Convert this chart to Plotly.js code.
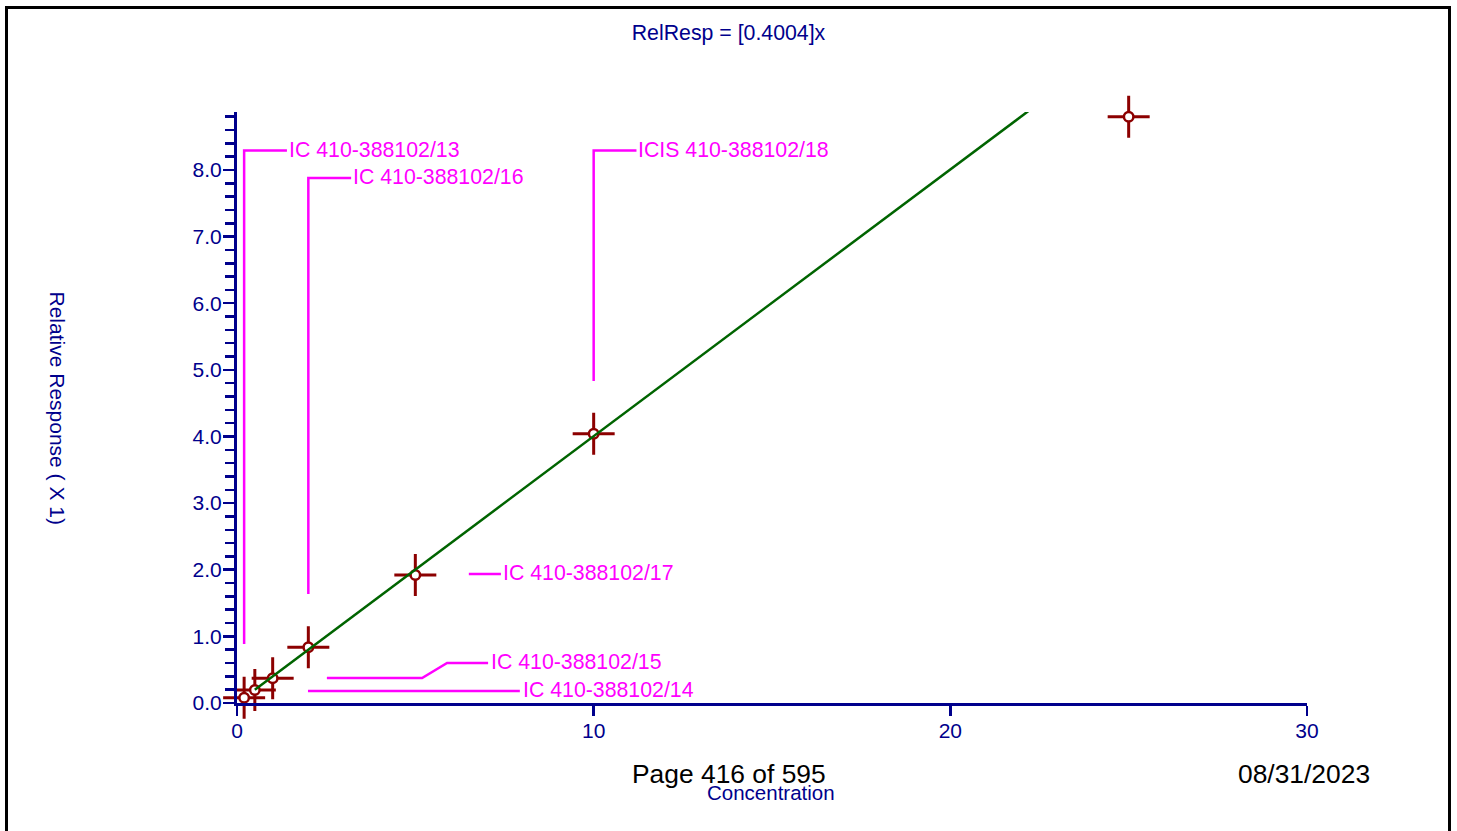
<!DOCTYPE html>
<html><head><meta charset="utf-8">
<script src="https://cdn.plot.ly/plotly-3.0.1.min.js"></script>
<style>html,body{margin:0;padding:0;background:#fff;overflow:hidden;} #chart{width:1457px;height:831px;}</style>
</head><body><div id="chart"></div>
<script>
// ---- data ----
const concentration = [0.2, 0.5, 1, 2, 5, 10, 25];
const relResponse = [0.08, 0.195, 0.37, 0.836, 1.92, 4.04, 8.80];
const slope = 0.4004;
const fitRange = [0.5, 22.23];
const xTickVals = [0, 10, 20, 30];
const xTickText = ['0', '10', '20', '30'];
const labelNames = ['IC 410-388102/13', 'IC 410-388102/16', 'ICIS 410-388102/18', 'IC 410-388102/17', 'IC 410-388102/15', 'IC 410-388102/14'];
const labelX = [1.41, 3.20, 11.19, 7.41, 7.07, 7.97];
const labelY = [8.30, 7.89, 8.30, 1.945, 0.610, 0.190];
const leaderX = [[0.2, 0.2, 1.40], [2, 2, 3.20], [10, 10, 11.20], [6.50, 7.40], [2.52, 5.19, 5.89, 7.04], [1.99, 7.93]];
const leaderY = [[0.886, 8.293, 8.293], [1.636, 7.88, 7.88], [4.833, 8.293, 8.293], [1.936, 1.936], [0.375, 0.375, 0.600, 0.600], [0.180, 0.180]];

// ---- styles ----
const NAVY = '#00008C', MAG = '#FF00FF', RED = '#8C0000', GREEN = '#006400';
const FONT = 'Liberation Sans, Arial, sans-serif';

const traces = [];
leaderX.forEach((xs, i) => {
  traces.push({x: xs, y: leaderY[i], mode: 'lines', line: {color: MAG, width: 2.5}, cliponaxis: false, hoverinfo: 'skip', showlegend: false});
});
traces.push({x: concentration, y: relResponse, mode: 'markers', cliponaxis: false, showlegend: false,
  marker: {symbol: 'cross-thin', size: 30, line: {color: RED, width: 3}}});
traces.push({x: concentration, y: relResponse, mode: 'markers', cliponaxis: false, showlegend: false,
  marker: {symbol: 'circle', size: 9.5, color: 'white', line: {color: RED, width: 2.5}}});
traces.push({x: fitRange, y: fitRange.map(v => slope * v), mode: 'lines', cliponaxis: false, showlegend: false,
  line: {color: GREEN, width: 2.5}});

const annotations = labelNames.map((t, i) => ({x: labelX[i], y: labelY[i], xref: 'x', yref: 'y', text: t, showarrow: false,
  xanchor: 'left', yanchor: 'middle', font: {family: FONT, size: 21.3, color: MAG}}));
annotations.push({x: -0.1673, y: 0.4983, xref: 'paper', yref: 'paper', text: 'Relative Response ( X 1)', textangle: 90,
  showarrow: false, xanchor: 'center', yanchor: 'middle', font: {family: FONT, size: 21, color: NAVY}});
annotations.push({x: 0.4995, y: -0.1506, xref: 'paper', yref: 'paper', text: 'Concentration',
  showarrow: false, xanchor: 'center', yanchor: 'middle', font: {family: FONT, size: 20.5, color: NAVY}});
annotations.push({x: 0.4598, y: -0.1201, xref: 'paper', yref: 'paper', text: 'Page 416 of 595',
  showarrow: false, xanchor: 'center', yanchor: 'middle', font: {family: FONT, size: 26.4, color: '#000'}});
annotations.push({x: 0.9972, y: -0.1201, xref: 'paper', yref: 'paper', text: '08/31/2023',
  showarrow: false, xanchor: 'center', yanchor: 'middle', font: {family: FONT, size: 26.4, color: '#000'}});

const layout = {
  width: 1457, height: 831,
  margin: {l: 237, r: 150, t: 112, b: 128, pad: 0},
  paper_bgcolor: '#fff', plot_bgcolor: '#fff',
  font: {family: FONT, color: NAVY},
  title: {text: 'RelResp = [0.4004]x', x: 0.5, xref: 'container', y: 1 - 33 / 831, yref: 'container', yanchor: 'middle', xanchor: 'center',
    font: {family: FONT, size: 21.3, color: NAVY}},
  xaxis: {range: [0, 30], showgrid: false, zeroline: false, showline: true, linecolor: NAVY, linewidth: 3,
    ticks: 'outside', ticklen: 10, tickwidth: 2.5, tickcolor: NAVY, tickvals: xTickVals, ticktext: xTickText,
    tickfont: {family: FONT, size: 21, color: NAVY}, ticklabelstandoff: -3, fixedrange: true},
  yaxis: {range: [0, 8.87], showgrid: false, zeroline: false, showline: true, linecolor: NAVY, linewidth: 3,
    ticks: 'outside', ticklen: 11, tickwidth: 2.5, tickcolor: NAVY, dtick: 1, tick0: 0, tickformat: '.1f',
    tickfont: {family: FONT, size: 21, color: NAVY}, ticklabelstandoff: -3,
    minor: {dtick: 0.2, tick0: 0, ticks: 'outside', ticklen: 9, tickwidth: 2.5, tickcolor: NAVY, showgrid: false},
    fixedrange: true},
  annotations: annotations,
  shapes: [{type: 'rect', xref: 'paper', yref: 'paper', x0: (6.5 - 237) / 1070, x1: (1449.5 - 237) / 1070,
    y0: (703 - 845) / 591, y1: (703 - 7.5) / 591, line: {color: '#000', width: 3}, fillcolor: 'rgba(0,0,0,0)', layer: 'above'}]
};

Plotly.newPlot('chart', traces, layout, {displayModeBar: false, staticPlot: true});
</script></body></html>
